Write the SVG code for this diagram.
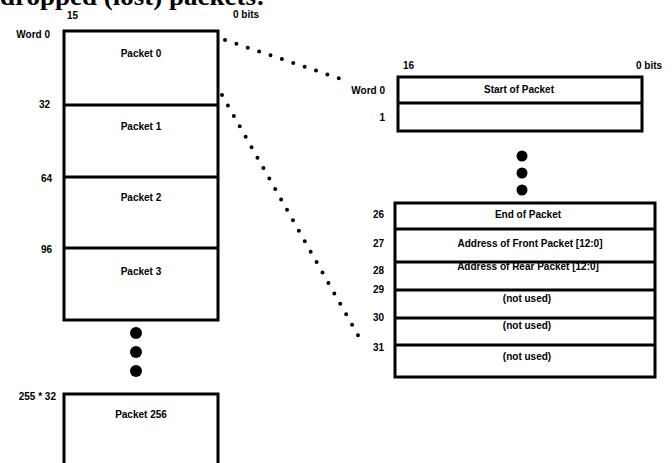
<svg xmlns="http://www.w3.org/2000/svg" width="672" height="463" viewBox="0 0 672 463">
<style>
.t{font-family:"Liberation Sans",Arial,sans-serif;font-weight:bold;font-size:10px;fill:#000}
.c{text-anchor:middle}
.e{text-anchor:end}
.box{fill:#fff;stroke:#000;stroke-width:3}
.ln{stroke:#000;stroke-width:3}
.dot{stroke:#000;stroke-width:4;stroke-linecap:round;stroke-dasharray:0 12;fill:none}
</style>
<rect width="672" height="463" fill="#fff"/>
<text x="0" y="5" font-family="'Liberation Serif','Times New Roman',serif" font-weight="bold" font-size="26" textLength="265" lengthAdjust="spacingAndGlyphs">dropped (lost) packets:</text>

<g id="connectors">
<line class="dot" x1="225" y1="40" x2="347" y2="81"/>
<line class="dot" x1="222" y1="95" x2="359" y2="337"/>
</g>

<g id="left-memory">
<text class="t" x="67" y="19">15</text>
<text class="t" x="233" y="18">0  bits</text>
<rect class="box" x="64" y="31" width="154" height="289"/>
<line class="ln" x1="64" y1="105" x2="218" y2="105" stroke-width="5"/>
<line class="ln" x1="64" y1="177" x2="218" y2="177"/>
<line class="ln" x1="64" y1="248" x2="218" y2="248"/>
<text class="t e" x="50" y="38">Word  0</text>
<text class="t e" x="50" y="108">32</text>
<text class="t e" x="52" y="182">64</text>
<text class="t e" x="52" y="253">96</text>
<text class="t c" x="141" y="57">Packet 0</text>
<text class="t c" x="141" y="130">Packet 1</text>
<text class="t c" x="141" y="201">Packet 2</text>
<text class="t c" x="141" y="275">Packet 3</text>
<circle cx="136" cy="333" r="6"/>
<circle cx="136" cy="352" r="6"/>
<circle cx="136" cy="371" r="6"/>
</g>

<g id="packet-256">
<text class="t e" x="56" y="400">255 * 32</text>
<rect class="box" x="64" y="394" width="154" height="80"/>
<text class="t c" x="141" y="418">Packet 256</text>
</g>

<g id="packet-detail-top">
<text class="t" x="403" y="69">16</text>
<text class="t" x="636" y="69">0  bits</text>
<rect class="box" x="398" y="77" width="244" height="54"/>
<line class="ln" x1="398" y1="103" x2="642" y2="103"/>
<text class="t e" x="385" y="94">Word 0</text>
<text class="t e" x="385" y="121">1</text>
<text class="t c" x="519" y="93">Start of Packet</text>
<circle cx="522" cy="156" r="5.5"/>
<circle cx="522" cy="173" r="5.5"/>
<circle cx="522" cy="190" r="5.5"/>
</g>

<g id="packet-detail-bottom">
<rect class="box" x="395" y="203" width="260" height="174"/>
<line class="ln" x1="395" y1="229" x2="655" y2="229"/>
<line class="ln" x1="395" y1="262" x2="655" y2="262"/>
<line class="ln" x1="395" y1="290" x2="655" y2="290"/>
<line class="ln" x1="395" y1="318" x2="655" y2="318"/>
<line class="ln" x1="395" y1="345" x2="655" y2="345"/>
<text class="t e" x="384" y="218">26</text>
<text class="t e" x="384" y="247">27</text>
<text class="t e" x="384" y="274">28</text>
<text class="t e" x="384" y="293">29</text>
<text class="t e" x="384" y="321">30</text>
<text class="t e" x="384" y="351">31</text>
<text class="t c" x="528" y="218">End of Packet</text>
<text class="t c" x="530" y="247">Address of Front Packet [12:0]</text>
<text class="t c" x="528" y="270">Address of  Rear Packet [12:0]</text>
<text class="t c" x="527" y="302">(not used)</text>
<text class="t c" x="527" y="329">(not used)</text>
<text class="t c" x="527" y="360">(not used)</text>
</g>
</svg>
